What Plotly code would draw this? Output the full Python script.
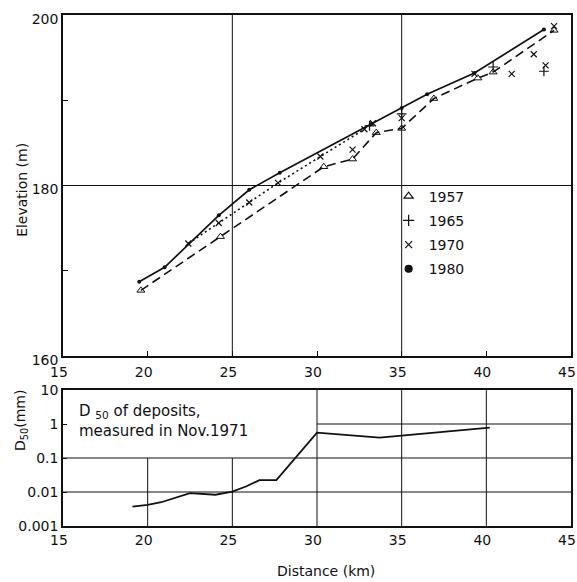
import plotly.graph_objects as go

# ---------------- data ----------------
dist_1957 = [19.6, 24.3, 30.4, 32.1, 33.5, 35.0, 36.9, 39.5, 40.4, 44.0]
elev_1957 = [167.7, 174.0, 182.2, 183.1, 186.2, 186.7, 190.2, 192.6, 193.3, 198.2]

dist_1965 = [33.1, 35.0, 40.4, 43.4]
elev_1965 = [187.0, 188.4, 193.9, 193.4]

dist_1970_line = [22.4, 24.2, 26.0, 27.7, 30.2, 32.8]
elev_1970_line = [173.2, 175.6, 178.0, 180.3, 183.4, 186.6]
dist_1970_pts = [32.1, 33.3, 35.0, 39.3, 41.5, 42.8, 43.5, 44.0]
elev_1970_pts = [184.2, 187.3, 187.9, 193.1, 193.1, 195.4, 194.1, 198.7]

dist_1980 = [19.5, 21.0, 24.2, 26.0, 27.8, 33.2, 35.0, 36.5, 39.3, 43.4]
elev_1980 = [168.7, 170.4, 176.5, 179.5, 181.5, 187.2, 189.1, 190.7, 193.2, 198.3]

dist_d50 = [19.1, 20.0, 20.8, 22.5, 24.0, 25.0, 25.8, 26.6, 27.6, 30.0, 33.7, 40.2]
d50_mm = [0.0037, 0.0042, 0.0050, 0.0093, 0.0083, 0.0102, 0.0145, 0.0224, 0.0224, 0.56, 0.40, 0.78]

x_ticks = [15, 20, 25, 30, 35, 40, 45]
elev_ticks = [160, 180, 200]
d50_ticks = [0.001, 0.01, 0.1, 1, 10]
d50_ticktext = ["0.001", "0.01", "0.1", "1", "10"]

# grid lines present in the original
top_grid_x = [25, 35]
top_grid_y = [180]

FONT = "DejaVu Sans"
BLACK = "#111111"

fig = go.Figure()

# --- top panel traces ---
fig.add_trace(go.Scatter(x=dist_1957, y=elev_1957, mode="lines+markers",
                         line=dict(color=BLACK, width=1.6, dash="9px,5px"),
                         marker=dict(symbol="triangle-up-open", size=7, color=BLACK, line=dict(width=1)),
                         showlegend=False, xaxis="x", yaxis="y"))
fig.add_trace(go.Scatter(x=dist_1970_line, y=elev_1970_line, mode="lines+markers",
                         line=dict(color=BLACK, width=1.6, dash="2px,3px"),
                         marker=dict(symbol="x-thin-open", size=6, color=BLACK, line=dict(width=1.2, color=BLACK)),
                         showlegend=False, xaxis="x", yaxis="y"))
fig.add_trace(go.Scatter(x=dist_1970_pts, y=elev_1970_pts, mode="markers",
                         marker=dict(symbol="x-thin-open", size=6, color=BLACK, line=dict(width=1.2, color=BLACK)),
                         showlegend=False, xaxis="x", yaxis="y"))
fig.add_trace(go.Scatter(x=dist_1965, y=elev_1965, mode="markers",
                         marker=dict(symbol="cross-thin-open", size=7, color=BLACK, line=dict(width=1.2, color=BLACK)),
                         showlegend=False, xaxis="x", yaxis="y"))
fig.add_trace(go.Scatter(x=dist_1980, y=elev_1980, mode="lines+markers",
                         line=dict(color=BLACK, width=1.7),
                         marker=dict(symbol="circle", size=4, color=BLACK),
                         showlegend=False, xaxis="x", yaxis="y"))

# legend entries (markers only, as in the original key)
legend_items = [("1957", "triangle-up-open", 8), ("1965", "cross-thin-open", 8),
                ("1970", "x-thin-open", 7), ("1980", "circle-dot", 7)]
for name, sym, sz in legend_items:
    fig.add_trace(go.Scatter(x=[None], y=[None], mode="markers", name=name,
                             legendgroup=name,
                             marker=dict(symbol=sym, size=sz, color=BLACK,
                                         line=dict(width=1.2, color=BLACK)),
                             xaxis="x", yaxis="y"))

# --- bottom panel trace ---
fig.add_trace(go.Scatter(x=dist_d50, y=d50_mm, mode="lines",
                         line=dict(color=BLACK, width=1.8),
                         showlegend=False, xaxis="x2", yaxis="y2"))

shapes = []
for gx in top_grid_x:
    shapes.append(dict(type="line", xref="x", yref="y domain", x0=gx, x1=gx, y0=0, y1=1,
                       line=dict(color=BLACK, width=1), layer="below"))
for gy in top_grid_y:
    shapes.append(dict(type="line", xref="x domain", yref="y", x0=0, x1=1, y0=gy, y1=gy,
                       line=dict(color=BLACK, width=1), layer="below"))
# bottom panel grid (interrupted by the caption box)
for gx in [20, 25]:
    shapes.append(dict(type="line", xref="x2", yref="y2", x0=gx, x1=gx, y0=0.001, y1=0.1,
                       line=dict(color=BLACK, width=1), layer="below"))
for gx in [30, 35, 40]:
    shapes.append(dict(type="line", xref="x2", yref="y2", x0=gx, x1=gx, y0=0.001, y1=10,
                       line=dict(color=BLACK, width=1), layer="below"))
for gy in [0.01, 0.1]:
    shapes.append(dict(type="line", xref="x2", yref="y2", x0=15, x1=45, y0=gy, y1=gy,
                       line=dict(color=BLACK, width=1), layer="below"))
shapes.append(dict(type="line", xref="x2", yref="y2", x0=30, x1=45, y0=1, y1=1,
                   line=dict(color=BLACK, width=1.2), layer="below"))

axis_common = dict(showline=True, linecolor=BLACK, linewidth=1.5, mirror=True,
                   showgrid=False, zeroline=False, ticks="inside", ticklen=5,
                   tickcolor=BLACK, automargin=False, ticklabeloverflow="allow",
                   tickfont=dict(family=FONT, size=14, color=BLACK))

fig.update_layout(
    width=577, height=582,
    margin=dict(l=63, r=6, t=15, b=56),
    paper_bgcolor="white", plot_bgcolor="white",
    font=dict(family=FONT, size=14, color=BLACK),
    xaxis=dict(axis_common, domain=[0, 1], range=[15, 45], tickvals=x_ticks, anchor="y",
               ticklabelshift=-4, ticklabelstandoff=2),
    yaxis=dict(axis_common, domain=[0.3327, 1.0], range=[160, 200], tickvals=elev_ticks,
               anchor="x", ticklabelshift=4,
               minor=dict(dtick=10, ticks="inside", ticklen=5, tickcolor=BLACK)),
    xaxis2=dict(axis_common, domain=[0, 1], range=[15, 45], tickvals=x_ticks, anchor="y2", ticks="",
                ticklabelshift=-4),
    yaxis2=dict(axis_common, domain=[0, 0.2661], type="log", range=[-3, 1], tickvals=d50_ticks,
                ticktext=d50_ticktext, anchor="x2", ticklen=4),
    shapes=shapes,
    legend=dict(x=0.641, y=0.676, xanchor="left", yanchor="top", bgcolor="rgba(0,0,0,0)",
                font=dict(family=FONT, size=14, color=BLACK), itemwidth=30,
                tracegroupgap=3),
    annotations=[
        dict(text="Elevation (m)", x=-0.081, y=0.6575, xref="paper", yref="paper",
             xanchor="center", yanchor="middle",
             textangle=-90, showarrow=False, font=dict(family=FONT, size=14, color=BLACK)),
        dict(text="D<sub>50</sub>(mm)", x=-0.083, y=0.207, xref="paper", yref="paper",
             xanchor="center", yanchor="middle",
             textangle=-90, showarrow=False, font=dict(family=FONT, size=14, color=BLACK)),
        dict(text="Distance (km)", x=0.517, y=-0.088, xref="paper", yref="paper",
             xanchor="center", yanchor="middle",
             showarrow=False, font=dict(family=FONT, size=14, color=BLACK)),
        dict(text="D <sub>50</sub> of deposits,<br>measured in Nov.1971", x=0.028, y=0.246,
             xref="paper", yref="paper", xanchor="left", yanchor="top", align="left",
             showarrow=False, font=dict(family=FONT, size=15, color=BLACK)),
    ],
)

# remove the browser's default 8px page margin so the 577x582 figure fills the window
fig.write_html("out.html", config={"displayModeBar": False},
               post_script="document.body.style.margin='0';document.body.style.overflow='hidden';")
